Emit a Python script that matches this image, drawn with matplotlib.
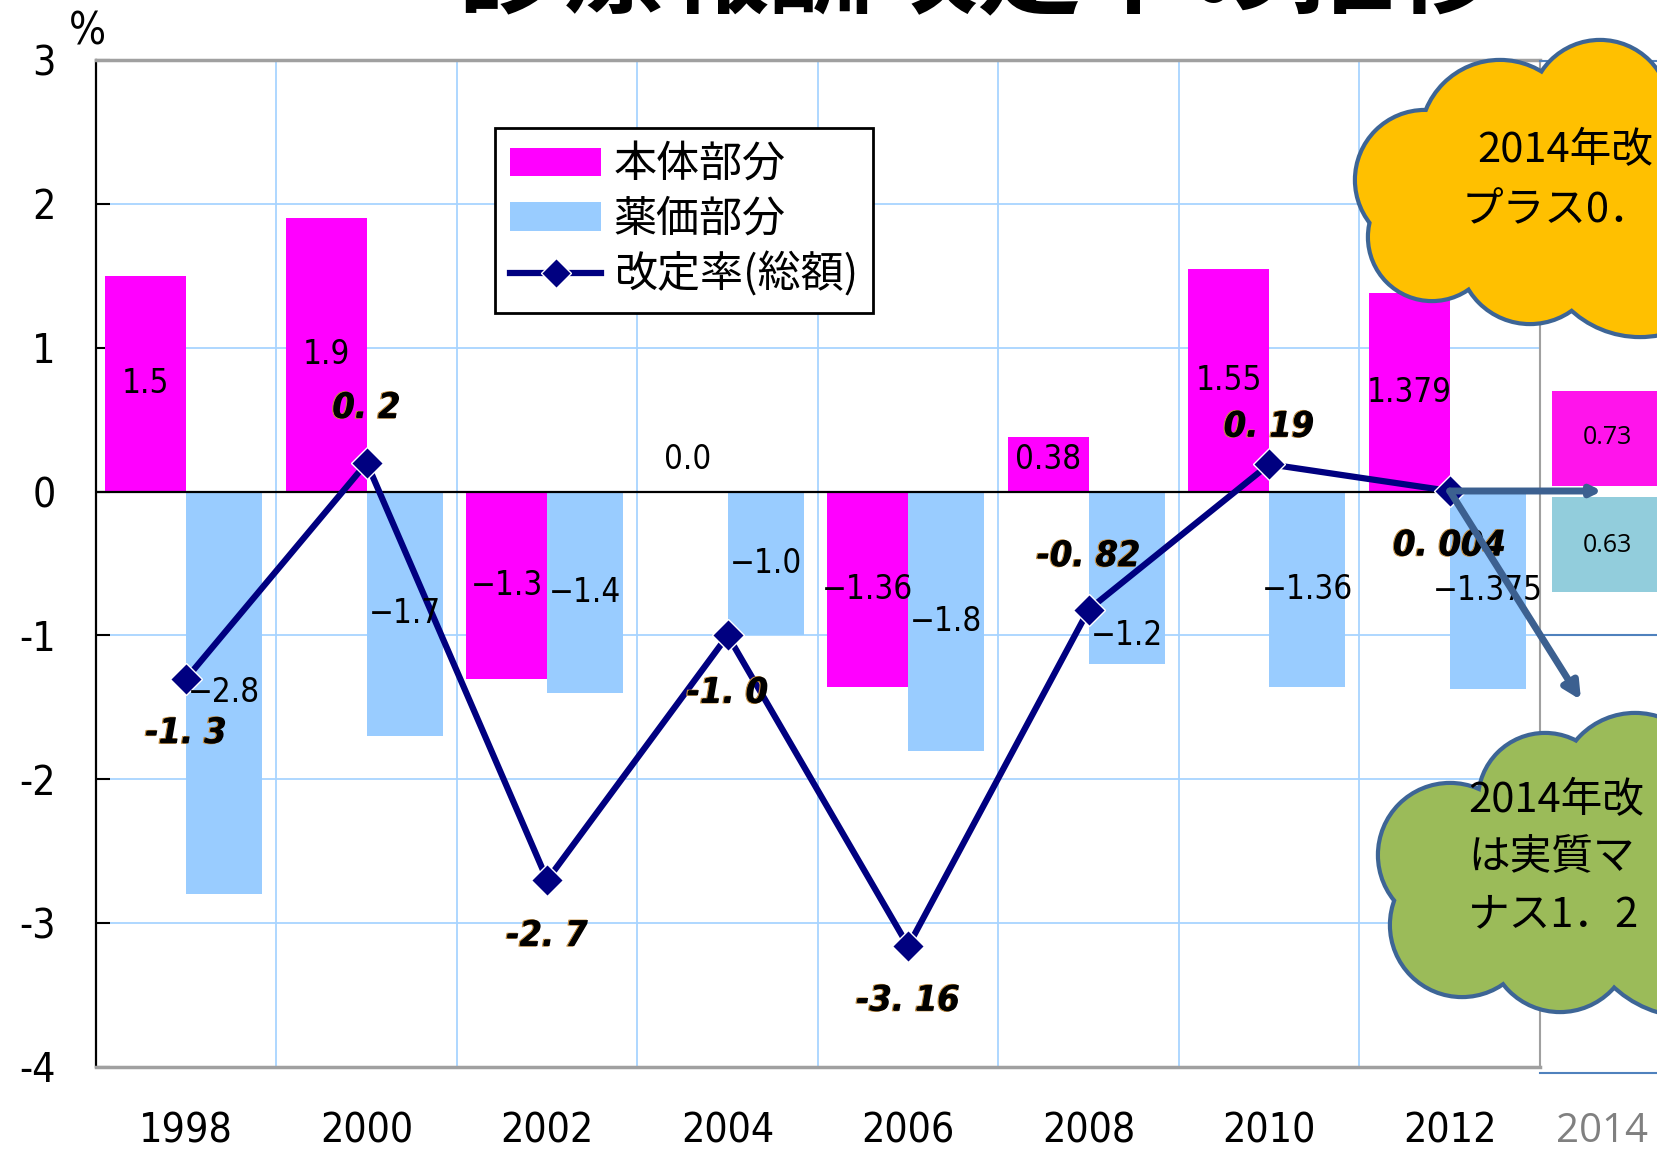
import numpy as np
import matplotlib
matplotlib.use('Agg')
import matplotlib.pyplot as plt
from matplotlib.patches import Circle, Rectangle, Patch
from matplotlib.lines import Line2D
import matplotlib.patheffects as pe
from matplotlib import font_manager

plt.rcParams['axes.unicode_minus'] = False

# data
years = ['1998', '2000', '2002', '2004', '2006', '2008', '2010', '2012']
honbun = [1.5, 1.9, -1.3, 0.0, -1.36, 0.38, 1.55, 1.379]          # 本体部分
yakka = [-2.8, -1.7, -1.4, -1.0, -1.8, -1.2, -1.36, -1.375]        # 薬価部分
total = [-1.3, 0.2, -2.7, -1.0, -3.16, -0.82, 0.19, 0.004]         # 改定率(総額)
honbun_labels = ['1.5', '1.9', '−1.3', '0.0', '−1.36', '0.38', '1.55', '1.379']
yakka_labels = ['−2.8', '−1.7', '−1.4', '−1.0', '−1.8', '−1.2', '−1.36', '−1.375']
total_labels = ['-1. 3', '0. 2', '-2. 7', '-1. 0', '-3. 16', '-0. 82', '0. 19', '0. 004']
honbun_2014 = 0.73
yakka_2014 = 0.63

# narrow font if there is one
names = {f.name for f in font_manager.fontManager.ttflist}
cond = [f for f in font_manager.fontManager.ttflist
        if f.name == 'DejaVu Sans' and f.stretch == 'condensed']
if 'Liberation Sans Narrow' in names:
    NARROW = dict(family=['Liberation Sans Narrow', 'DejaVu Sans'])
    scale = 1.0
elif cond:
    NARROW = dict(family=['DejaVu Sans'], stretch='condensed')
    scale = 0.95
else:
    NARROW = dict(family=['DejaVu Sans'])
    scale = 0.85
JP = ['Noto Sans CJK JP', 'DejaVu Sans']

W, H = 1658, 1156
fig = plt.figure(figsize=(W / 100, H / 100), dpi=100)
ax = fig.add_axes([96 / W, 1 - 1067 / H, (1540 - 96) / W, (1067 - 60) / H])

x = np.arange(len(years))
ax.bar(x, honbun, width=-0.45, align='edge', color='#FF00FF', zorder=2)
ax.bar(x, yakka, width=0.42, align='edge', color='#99CCFF', zorder=2)
ax.plot(x, total, color='#000080', lw=4.5, marker='D', ms=16, mfc='#000080',
        mec='white', mew=1, zorder=4)
ax.axhline(0, color='black', lw=1.6, zorder=3)

ax.set_xlim(-0.5, len(years) - 0.5)
ax.set_ylim(-4, 3)
for v in range(-3, 3):
    if v != 0:
        ax.axhline(v, color='#A8D4FF', lw=1.3, zorder=0)
for b in np.arange(0.5, len(years) - 0.5):
    ax.axvline(b, color='#A8D4FF', lw=1.3, zorder=0)

ax.spines['left'].set_color('black')
ax.spines['left'].set_linewidth(1.6)
for s in ['top', 'bottom']:
    ax.spines[s].set_color('#A0A0A0')
    ax.spines[s].set_linewidth(2.5)
ax.spines['right'].set_color('#A0A0A0')
ax.spines['right'].set_linewidth(1.5)

ax.set_yticks(range(-4, 4))
ax.set_yticklabels([str(v) for v in range(-4, 4)], fontsize=31 * scale, **NARROW)
ax.tick_params(axis='y', direction='in', length=10, width=1.5, pad=29)
ax.set_xticks(x)
ax.set_xticklabels(years, fontsize=31 * scale, **NARROW)
ax.tick_params(axis='x', length=0, pad=32)

# bar labels
for i in range(len(years)):
    hy = honbun[i] / 2 if abs(honbun[i]) > 0.5 else 0.22
    ax.text(i - 0.225, hy, honbun_labels[i], ha='center', va='center',
            fontsize=25 * scale, zorder=5, **NARROW)
    yy = yakka[i] / 2 if years[i] != '2008' else -1.0
    ax.text(i + 0.21, yy, yakka_labels[i], ha='center', va='center',
            fontsize=25 * scale, zorder=5, **NARROW)

label_offset = [-0.38, 0.38, -0.39, -0.40, -0.38, 0.37, 0.26, -0.38]
shadow = [pe.Stroke(linewidth=0.8, foreground='#C89040', offset=(-1, 0)), pe.Normal()]
for i in range(len(years)):
    ax.text(i, total[i] + label_offset[i], total_labels[i], ha='center', va='center',
            fontsize=27 * scale, fontweight='bold', style='italic',
            zorder=5, path_effects=shadow, **NARROW)

handles = [Patch(facecolor='#FF00FF', edgecolor='none'),
           Patch(facecolor='#99CCFF', edgecolor='none'),
           Line2D([], [], color='#000080', lw=4.5, marker='D', ms=15, mfc='#000080', mec='white')]
leg = ax.legend(handles, ['本体部分', '薬価部分', '改定率(総額)'],
                loc='upper left', bbox_to_anchor=(0.2765, 0.9325), borderaxespad=0,
                prop={'family': JP, 'size': 31}, fancybox=False, edgecolor='black',
                framealpha=1, handlelength=2.1, handleheight=0.65, handletextpad=0.3,
                labelspacing=0.25, borderpad=0.35, numpoints=1)
leg.get_frame().set_linewidth(2)
leg.set_zorder(6)

fig.text(87 / W, 1 - 32 / H, '%', ha='center', va='center', fontsize=33 * scale, **NARROW)
fig.text(0.59, 1 - 4 / H, '診療報酬改定率の推移', ha='center', va='baseline',
         fontsize=75, fontweight='bold', family=JP)

# overlay in pixel coordinates
ov = fig.add_axes([0, 0, 1, 1], zorder=5)
ov.set_xlim(0, W)
ov.set_ylim(H, 0)
ov.axis('off')
ov.patch.set_alpha(0)


def to_ov(xd, yd):
    px, py = ax.transData.transform((xd, yd))
    return px, H - py


right_edge = to_ov(len(years) - 0.5, 0)[0]
blue = '#4F81BD'
ov.plot([right_edge, W], [61, 61], color=blue, lw=1.5)
ov.plot([right_edge, W], [to_ov(0, -1)[1]] * 2, color=blue, lw=1.5)
ov.plot([right_edge, W], [1073, 1073], color=blue, lw=1.5)

# 2014 boxes
ov.add_patch(Rectangle((1552, 391), 120, 95, facecolor='#FF14EB', edgecolor='none'))
ov.add_patch(Rectangle((1552, 497), 120, 95, facecolor='#92CDDC', edgecolor='none'))
ov.text(1607, 438, f'{honbun_2014:.2f}', ha='center', va='center', fontsize=18, family='Open Sans')
ov.text(1607, 545, f'{yakka_2014:.2f}', ha='center', va='center', fontsize=18, family='Open Sans')
ov.text(1648, 1142, '2014', ha='right', va='baseline', fontsize=29, color='#808080', family='Open Sans')

# arrows from the 2012 point
sx, sy = to_ov(len(years) - 1, total[-1])
arrow_c = '#3C6090'
ov.annotate('', xy=(1602, sy), xytext=(sx, sy),
            arrowprops=dict(arrowstyle='-|>', color=arrow_c, lw=5, mutation_scale=14,
                            shrinkA=0, shrinkB=0), zorder=3)
ov.annotate('', xy=(1581, 700), xytext=(sx, sy),
            arrowprops=dict(arrowstyle='-|>', color=arrow_c, lw=5, mutation_scale=25,
                            shrinkA=0, shrinkB=0), zorder=3)


def cloud(circles, face, z):
    for cx, cy, r in circles:
        ov.add_patch(Circle((cx, cy), r, facecolor=face, edgecolor='#3D6596', lw=6, zorder=z))
    for cx, cy, r in circles:
        ov.add_patch(Circle((cx, cy), r, facecolor=face, edgecolor='none', zorder=z + 0.1))


cloud([(1425, 180, 68), (1432, 237, 62), (1500, 140, 78), (1600, 110, 68),
       (1530, 252, 70), (1640, 235, 100), (1545, 185, 90)], '#FFC000', 4)
ov.text(1477, 151, '2014年改', ha='left', va='center', fontsize=30, family=JP, zorder=5)
ov.text(1462, 211, 'プラス0．', ha='left', va='center', fontsize=30, family=JP, zorder=5)

cloud([(1450, 855, 70), (1462, 925, 70), (1545, 800, 65), (1635, 790, 75),
       (1560, 940, 70), (1690, 905, 110), (1565, 870, 90)], '#9BBB59', 4)
for j, t in enumerate(['2014年改', 'は実質マ', 'ナス1．2']):
    ov.text(1468, 801 + 57 * j, t, ha='left', va='center', fontsize=30, family=JP, zorder=5)

fig.savefig('out.png', dpi=100)
